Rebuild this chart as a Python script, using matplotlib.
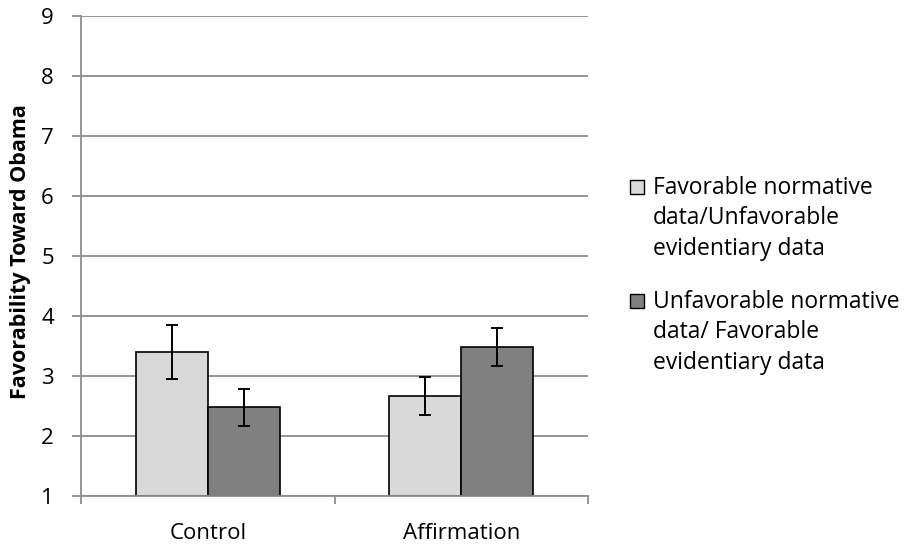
import numpy as np
import matplotlib.pyplot as plt
from matplotlib.patches import Rectangle

plt.rcParams['font.family'] = ['Open Sans', 'DejaVu Sans']

categories = ['Control', 'Affirmation']
series_names = ['Favorable normative\ndata/Unfavorable\nevidentiary data',
                'Unfavorable normative\ndata/ Favorable\nevidentiary data']
fav_norm = [3.40, 2.67]
fav_norm_err = [0.45, 0.32]
unfav_norm = [2.48, 3.49]
unfav_norm_err = [0.31, 0.315]
colors = ['#D9D9D9', '#808080']

fig = plt.figure(figsize=(9.06, 5.46), dpi=100)
ax = fig.add_axes([81 / 906, 1 - 496.3 / 546, 507 / 906, 480.8 / 546])

x = np.arange(len(categories))
w = 0.284
grid_c = '#8C8C8C'

ax.set_ylim(1, 9)
ax.set_xlim(-0.5, 1.5)
ax.set_yticks(range(1, 10))
ax.yaxis.grid(True, color=grid_c, linewidth=1.3)
ax.set_axisbelow(True)

ax.bar(x - w / 2, np.array(fav_norm) - 1, w, bottom=1, color=colors[0],
       edgecolor='black', linewidth=1.2)
ax.bar(x + w / 2, np.array(unfav_norm) - 1, w, bottom=1, color=colors[1],
       edgecolor='black', linewidth=1.2)
ax.errorbar(x - w / 2, fav_norm, yerr=fav_norm_err, fmt='none', ecolor='black',
            elinewidth=1.4, capsize=4.3, capthick=1.4)
ax.errorbar(x + w / 2, unfav_norm, yerr=unfav_norm_err, fmt='none', ecolor='black',
            elinewidth=1.4, capsize=4.3, capthick=1.4)

# category axis: ticks between categories, labels centred
ax.set_xticks([-0.5, 0.5, 1.5])
ax.set_xticklabels([])
ax.set_xticks(x, minor=True)
ax.set_xticklabels(categories, minor=True)
ax.tick_params(axis='x', which='minor', length=0, labelsize=16, pad=19)
ax.tick_params(axis='x', which='major', length=6, color=grid_c, width=1.3)
ax.tick_params(axis='y', length=6.5, color=grid_c, width=1.3, labelsize=16, pad=13)

for s in ['top', 'right']:
    ax.spines[s].set_visible(False)
for s in ['left', 'bottom']:
    ax.spines[s].set_color(grid_c)
    ax.spines[s].set_linewidth(1.3)

ax.set_ylabel('Favorability Toward Obama', fontsize=15.5, fontweight='bold')
ax.yaxis.set_label_coords(-(81 - 31) / 507, (496.3 - 252) / 480.8)

# legend drawn by hand: square beside the first line of each wrapped label
for i, (name, c) in enumerate(zip(series_names, colors)):
    base = 194 + i * 114
    for j, line in enumerate(name.split('\n')):
        fig.text(653 / 906, 1 - (base + j * 30.5) / 546, line, fontsize=16.5,
                 va='baseline', ha='left')
    fig.patches.append(Rectangle((630 / 906, 1 - base / 546), 14 / 906, 14 / 546,
                                 transform=fig.transFigure, facecolor=c,
                                 edgecolor='black', linewidth=1.0))

fig.savefig('out.png', dpi=100)
